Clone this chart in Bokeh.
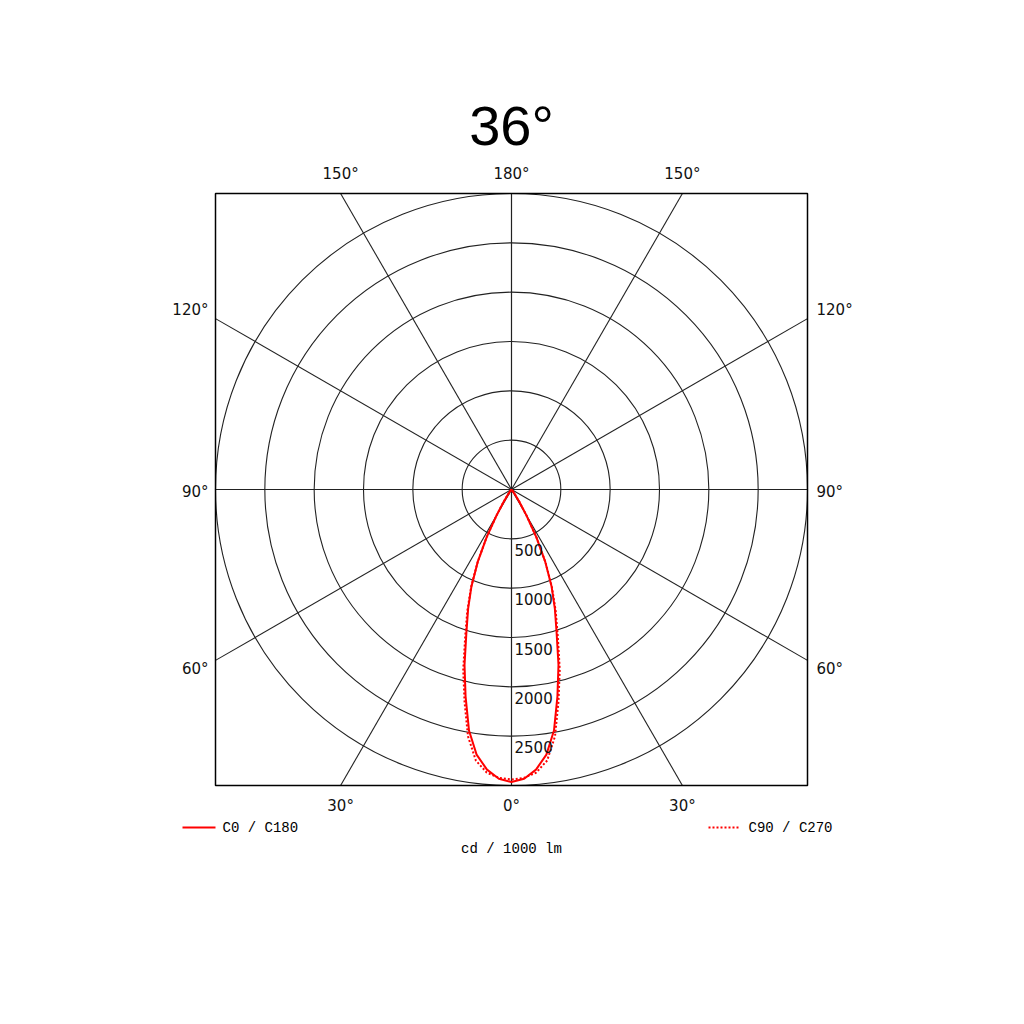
# polar_plot.py
#
# Polar intensity diagram (cd / 1000 lm) for a 36 degree beam,
# C0/C180 and C90/C270 planes.

# ========
# SETTINGS
# ========

# Libraries
import numpy as np
from bokeh import plotting
from bokeh import models
from bokeh.core.properties import value
from bokeh.embed import file_html
from bokeh.resources import INLINE

# Title
title = '36°'

# Gamma angles (deg)
gamma = [0, 2.5, 5, 7.5, 10, 12.5, 15, 17.5, 20, 22.5, 25, 27.5, 30, 32.5, 35, 37.5, 40]

# Intensity, C0 / C180 plane (cd / 1000 lm)
c0 = [2965, 2935, 2850, 2710, 2480, 2150, 1840, 1520, 1285, 1060, 810, 545, 300, 150, 60, 15, 0]

# Intensity, C90 / C270 plane (cd / 1000 lm)
c90 = [2940, 2925, 2880, 2770, 2540, 2200, 1890, 1560, 1310, 1070, 815, 550, 305, 150, 60, 15, 0]

# Grid rings (cd) and ring labels
rings = [500, 1000, 1500, 2000, 2500, 3000]
ring_labels = ['500', '1000', '1500', '2000', '2500']

# Radial grid angles (deg, from nadir)
spokes = [0, 30, 60, 90, 120, 150, 180]

# Angle labels: top, sides, bottom
top_angles = [150, 180, 150]
side_angles = [120, 90, 60]
bottom_angles = [30, 0, 30]

# Legend / unit text
legend_solid = 'C0 / C180'
legend_dotted = 'C90 / C270'
unit_label = 'cd / 1000 lm'

# Scale: cd per screen pixel
RMAX = 3000
CDPX = RMAX / 296.0

# ====
# MAIN
# ====

def main():
	'''main'''

	# Figure size and ranges (center of diagram at pixel 511, 489)
	W = 1000
	H = 1000
	cx = 511
	cy = 489

	p = plotting.figure(
		width=W, height=H,
		x_range=models.Range1d(-cx * CDPX, (W - cx) * CDPX),
		y_range=models.Range1d(-(H - cy) * CDPX, cy * CDPX),
		output_backend='svg',
		toolbar_location=None,
		min_border=0
		)
	p.axis.visible = False
	p.grid.visible = False
	p.outline_line_color = None
	p.background_fill_color = 'white'

	# Grid
	polar_grid(p)

	# Curves
	polar_curve(p, c0, None)
	polar_curve(p, c90, '2 2')

	# Labels
	polar_labels(p)

	# Save
	open('out.html', 'w').write(file_html(p, INLINE))

# ====
# GRID
# ====

def polar_grid(p):
	'''Rings, spokes and frame'''

	# Rings
	p.circle(x=0, y=0, radius=rings, fill_color=None, line_color='#222222', line_width=1.1)

	# Spokes out to the square frame, both sides
	x0 = []
	y0 = []
	x1 = []
	y1 = []
	for a in spokes:
		t = np.deg2rad(a)
		s = np.sin(t)
		c = np.cos(t)
		L = RMAX / max(abs(s), abs(c))
		for sign in [-1, 1]:
			x0.append(0)
			y0.append(0)
			x1.append(sign * s * L)
			y1.append(-c * L)
	p.segment(x0=x0, y0=y0, x1=x1, y1=y1, line_color='#222222', line_width=1.1)

	# Frame
	p.rect(x=0, y=0, width=2 * RMAX, height=2 * RMAX, fill_color=None, line_color='black', line_width=1.5)

# =====
# CURVE
# =====

def polar_curve(p, intensity, dash):
	'''Symmetric polar curve'''

	g = np.deg2rad(np.array(gamma))
	r = np.array(intensity, dtype=float)

	# Left half (descending angle), then right half
	xs = np.concatenate([-(r * np.sin(g))[::-1], (r * np.sin(g))[1:]])
	ys = np.concatenate([-(r * np.cos(g))[::-1], -(r * np.cos(g))[1:]])

	if dash is None:
		p.line(xs, ys, line_color='#ff0000', line_width=2, line_join='round')
	else:
		p.line(xs, ys, line_color='#ff0000', line_width=2, line_dash=dash)

# ======
# LABELS
# ======

def polar_labels(p):
	'''Angle labels, ring labels, legend, title'''

	lab_font = value('DejaVu Sans')
	mono_font = value('Liberation Mono')
	off = 20 * CDPX
	edge = RMAX * np.tan(np.deg2rad(30))

	# Top and bottom angle labels
	xs = [-edge, 0, edge]
	p.text(x=xs, y=[RMAX + off] * 3, text=[str(a) + '°' for a in top_angles],
		text_font=lab_font, text_font_size='15px', text_color='#111111',
		text_align='center', text_baseline='middle')
	p.text(x=xs, y=[-RMAX - off] * 3, text=[str(a) + '°' for a in bottom_angles],
		text_font=lab_font, text_font_size='15px', text_color='#111111',
		text_align='center', text_baseline='middle')

	# Side angle labels
	ys = [edge + 9 * CDPX, -2 * CDPX, -edge - 9 * CDPX]
	p.text(x=[-RMAX - 7 * CDPX] * 3, y=ys, text=[str(a) + '°' for a in side_angles],
		text_font=lab_font, text_font_size='15px', text_color='#111111',
		text_align='right', text_baseline='middle')
	p.text(x=[RMAX + 9 * CDPX] * 3, y=ys, text=[str(a) + '°' for a in side_angles],
		text_font=lab_font, text_font_size='15px', text_color='#111111',
		text_align='left', text_baseline='middle')

	# Ring labels
	p.text(x=[3 * CDPX] * len(ring_labels), y=[-(r + 11 * CDPX) for r in rings[:len(ring_labels)]],
		text=ring_labels, text_font=lab_font, text_font_size='15px', text_color='#111111',
		text_align='left', text_baseline='middle')

	# Legend
	ly = -RMAX - 42 * CDPX
	p.line([-RMAX - 33 * CDPX, -RMAX], [ly, ly], line_color='#ff0000', line_width=2)
	p.text(x=[-RMAX + 7 * CDPX], y=[ly], text=[legend_solid], text_font=mono_font,
		text_font_size='14px', text_color='black', text_align='left', text_baseline='middle')
	p.line([197 * CDPX, 229 * CDPX], [ly, ly], line_color='#ff0000', line_width=2, line_dash='2 2')
	p.text(x=[237 * CDPX], y=[ly], text=[legend_dotted], text_font=mono_font,
		text_font_size='14px', text_color='black', text_align='left', text_baseline='middle')

	# Unit
	p.text(x=[0], y=[-RMAX - 63 * CDPX], text=[unit_label], text_font=mono_font,
		text_font_size='14px', text_color='black', text_align='center', text_baseline='middle')

	# Title
	p.text(x=[0], y=[RMAX + 68 * CDPX], text=[title], text_font=value('Liberation Sans'),
		text_font_size='56px', text_color='black', text_align='center', text_baseline='middle')

# ====
# CALL
# ====

# Call
main()

# Done
#
